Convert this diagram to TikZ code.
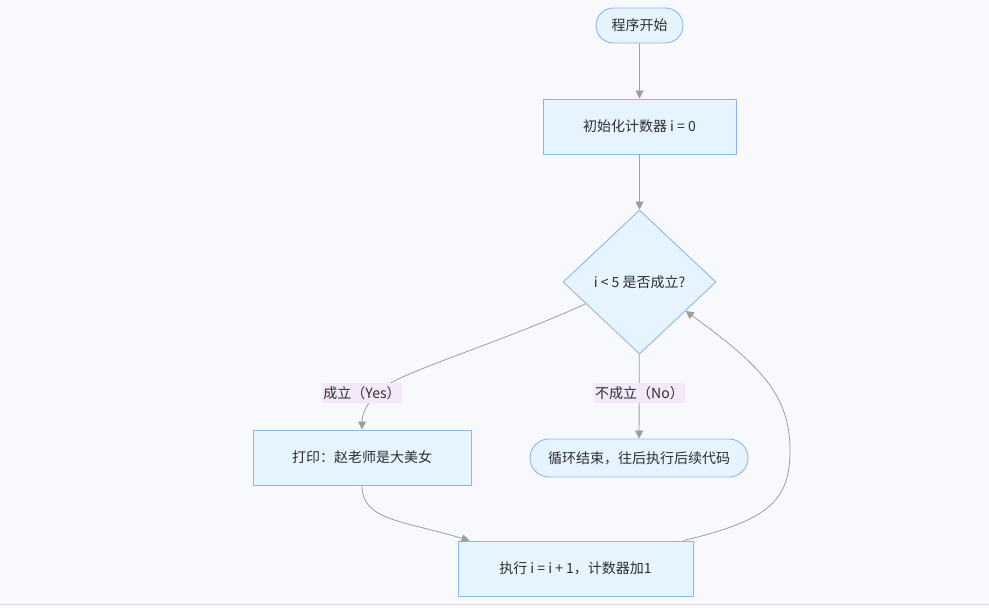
\documentclass[tikz,border=0pt]{standalone}
\usepackage{fontspec}
\setmainfont{Noto Sans CJK SC}
\usetikzlibrary{shapes.geometric,shapes.misc,arrows.meta,calc}
\definecolor{bgc}{HTML}{F8F9FC}
\definecolor{nodefill}{HTML}{E6F4FF}
\definecolor{nodeline}{HTML}{8DB6EC}
\definecolor{edgec}{HTML}{9E9E9E}
\definecolor{lblfill}{HTML}{F3E9FA}
\definecolor{txt}{HTML}{2E2E2E}
\tikzset{
  base/.style={draw=nodeline, fill=nodefill, line width=0.9pt, text=txt,
    font=\fontsize{14}{16}\selectfont, inner sep=0pt},
  term/.style={base, rounded rectangle, minimum height=35pt},
  procbox/.style={base, rectangle, minimum height=55pt},
  decide/.style={base, diamond, minimum width=153pt, minimum height=144pt},
  edge/.style={draw=edgec, line width=0.8pt, -{Triangle[width=8pt,length=8pt]}},
  lbl/.style={fill=lblfill, text=txt, font=\fontsize{14}{16}\selectfont, inner sep=1pt, minimum height=20pt}
}
\begin{document}
\begin{tikzpicture}[x=1pt,y=-1pt]
\fill[bgc] (0,0) rectangle (989,608);
\useasboundingbox (0,0) rectangle (989,608);
\draw[draw=black!12, line width=0.8pt] (0,604) -- (989,604);

\node[term, minimum width=87pt] (start) at (639.5,25.5) {程序开始};
\node[procbox, minimum width=193pt] (init) at (639.5,126.5) {初始化计数器 i = 0};
\node[decide] (dia) at (639.5,282) {i < 5 是否成立?};
\node[procbox, minimum width=218pt] (print) at (362,457.5) {打印：赵老师是大美女};
\node[term, minimum width=218pt, minimum height=38pt] (stop) at (639,458) {循环结束，往后执行后续代码};
\node[procbox, minimum width=235pt] (inc) at (575.5,568.5) {执行 i = i + 1，计数器加1};

\draw[edge] (start) -- (init);
\draw[edge] (init) -- (dia);
\draw[edge] ($(dia.west)!0.3!(dia.south)$) .. controls (500,343) and (400,372) .. (380,390)
  .. controls (366,404) and (362,414) .. (print.north);
\node[lbl] (yes) at (362,393) {成立（Yes）};
\draw[edge] (dia) -- (stop);
\node[lbl] (no) at (639.5,393) {不成立（No）};
\draw[edge] (print.south) .. controls (362,520) and (400,520) .. ($(inc.north west)+(12,0)$);
\draw[edge] ($(inc.north east)+(-10,0)$) .. controls (770,520) and (790,500) .. (790,450)
  .. controls (790,395) and (760,365) .. ($(dia.east)!0.4!(dia.south)$);
\end{tikzpicture}
\end{document}
